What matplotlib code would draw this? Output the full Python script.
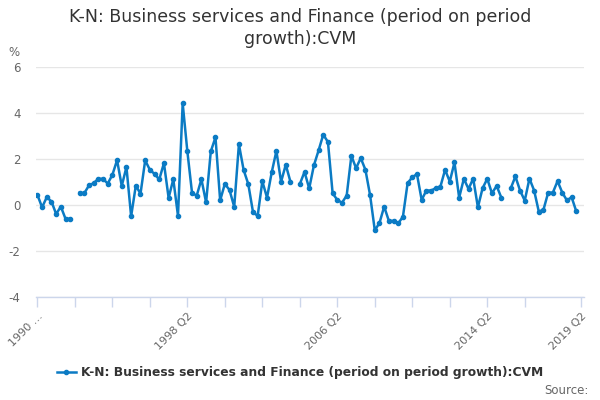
import matplotlib
matplotlib.use("Agg")
import matplotlib.pyplot as plt
import numpy as np
from matplotlib.lines import Line2D

# Quarterly categories 1990 Q2 .. 2019 Q2
quarters = [f"{y} Q{q}" for y in range(1990, 2020) for q in range(1, 5)]
quarters = quarters[quarters.index("1990 Q2"):quarters.index("2019 Q2") + 1]

growth = [
    0.44, -0.10, 0.34, 0.15, -0.39, -0.07, -0.60, -0.60, None, 0.53,
    0.51, 0.85, 0.95, 1.14, 1.14, 0.93, 1.31, 1.95, 0.83, 1.65,
    -0.49, 0.84, 0.49, 1.94, 1.53, 1.35, 1.11, 1.82, 0.31, 1.12,
    -0.47, 4.42, 2.33, 0.52, 0.41, 1.12, 0.11, 2.33, 2.94, 0.20,
    0.92, 0.65, -0.08, 2.64, 1.53, 0.91, -0.30, -0.48, 1.03, 0.32,
    1.42, 2.35, 1.01, 1.75, 1.01, None, 0.91, 1.44, 0.72, 1.72,
    2.37, 3.06, 2.74, 0.51, 0.22, 0.10, 0.41, 2.14, 1.60, 2.04,
    1.53, 0.42, -1.10, -0.78, -0.07, -0.69, -0.69, -0.80, -0.51, 0.95,
    1.21, 1.34, 0.22, 0.63, 0.63, 0.73, 0.80, 1.53, 1.02, 1.85,
    0.32, 1.14, 0.70, 1.15, -0.10, 0.73, 1.14, 0.51, 0.83, 0.32,
    None, 0.72, 1.24, 0.63, 0.19, 1.15, 0.63, -0.29, -0.20, 0.54,
    0.54, 1.04, 0.54, 0.20, 0.34, -0.28, None,
]

labelled = ["1990 Q2", "1998 Q2", "2006 Q2", "2014 Q2", "2019 Q2"]
label_text = ["1990 …", "1998 Q2", "2006 Q2", "2014 Q2", "2019 Q2"]
y_ticks = [-4, -2, 0, 2, 4, 6]

series_name = "K-N: Business services and Finance (period on period growth):CVM"
title = "K-N: Business services and Finance (period on period\ngrowth):CVM"

BLUE = "#0b7bc4"
GRID = "#e6e6e6"
AXIS = "#ccd6eb"
TXT = "#666666"

fig = plt.figure(figsize=(6, 4), dpi=100)
ax = fig.add_axes([0.06, 0.2575, 0.913, 0.575])

x = np.arange(len(quarters))
y = np.array([np.nan if v is None else v for v in growth], dtype=float)
ax.plot(x, y, color=BLUE, lw=1.8, marker="o", ms=3, zorder=3)

ax.set_ylim(-4, 6)
ax.set_xlim(-0.3, len(quarters) - 1 + 0.6)
ax.set_yticks(y_ticks)
ax.set_yticklabels([str(t) for t in y_ticks])
ax.grid(axis="y", color=GRID, lw=1)
ax.set_axisbelow(True)
for s in ["top", "right", "left"]:
    ax.spines[s].set_visible(False)
ax.spines["bottom"].set_color(AXIS)
ax.spines["bottom"].set_linewidth(1)

tick_pos = list(range(0, len(quarters) - 8, 8)) + [len(quarters) - 1]
ax.set_xticks(tick_pos)
lab_map = dict(zip(labelled, label_text))
ax.set_xticklabels([lab_map.get(quarters[p], "") for p in tick_pos])
ax.tick_params(axis="x", length=7, color=AXIS, width=1, labelsize=8,
               labelcolor=TXT, pad=3)
for lbl in ax.get_xticklabels():
    lbl.set_rotation(45)
    lbl.set_ha("right")
    lbl.set_va("top")
    lbl.set_rotation_mode("anchor")
ax.tick_params(axis="y", length=0, labelsize=8.5, labelcolor=TXT, pad=11)

fig.text(0.5, 0.98, title, ha="center", va="top", fontsize=12.5,
         color="#333333", linespacing=1.3)
fig.text(0.024, 0.868, "%", ha="center", va="center", fontsize=8.5, color=TXT)

handle = Line2D([0], [0], color=BLUE, lw=1.8, marker="o", ms=3)
leg = fig.legend([handle], [series_name], loc="center", bbox_to_anchor=(0.5, 0.068),
                 frameon=False, prop={"weight": "bold", "size": 8.8},
                 handlelength=1.6, handletextpad=0.4, labelcolor="#333333")
fig.text(0.981, 0.025, "Source:", ha="right", va="center", fontsize=8.5, color=TXT)

fig.savefig("out.png", dpi=100)
